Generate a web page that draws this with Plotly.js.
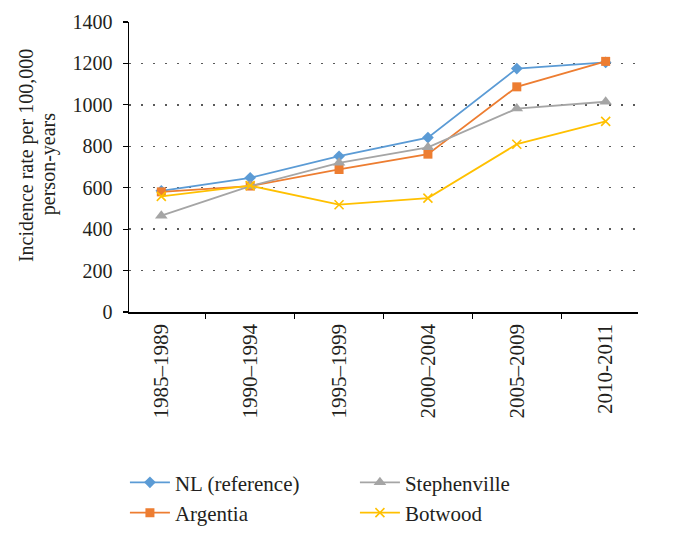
<!DOCTYPE html>
<html>
<head>
<meta charset="utf-8">
<script src="https://cdn.plot.ly/plotly-3.0.1.min.js"></script>
<style>
  html, body { margin: 0; padding: 0; background: #ffffff; }
  #chart { width: 690px; height: 536px; }
</style>
</head>
<body>
<div id="chart"></div>
<script>
// Time periods on the x axis
const periods = ["1985\u20131989", "1990\u20131994", "1995\u20131999", "2000\u20132004", "2005\u20132009", "2010-2011"];

// Incidence rate per 100,000 person-years for each area
const nlReference = [585, 648, 752, 842, 1175, 1205];
const argentia = [580, 608, 688, 762, 1087, 1210];
const stephenville = [465, 608, 720, 795, 982, 1015];
const botwood = [558, 610, 518, 550, 810, 920];

const yTicks = [0, 200, 400, 600, 800, 1000, 1200, 1400];

// Two-line y axis title
const yTitleLines = ["Incidence rate per 100,000", "person-years"];

const serif = "'Liberation Serif', 'Times New Roman', Times, serif";
const ink = "#231f20";

function series(name, y, color, symbol, size, rank) {
  return {
    type: "scatter",
    mode: "lines+markers",
    name: name,
    x: periods,
    y: y,
    legendrank: rank,
    line: { color: color, width: 1.8 },
    marker: {
      symbol: symbol,
      size: size,
      color: color,
      line: { color: color, width: symbol === "x-thin" ? 1.6 : 0 }
    }
  };
}

const traces = [
  series("NL (reference)", nlReference, "#5B9BD5", "diamond", 9, 1),
  series("Argentia", argentia, "#ED7D31", "square", 9, 3),
  series("Stephenville", stephenville, "#A5A5A5", "triangle-up", 11, 2),
  series("Botwood", botwood, "#FFC000", "x-thin", 9, 4)
];

function titleLine(text, x, y) {
  return {
    text: text,
    xref: "paper",
    yref: "paper",
    x: x,
    y: y,
    xanchor: "center",
    yanchor: "middle",
    textangle: -90,
    showarrow: false,
    font: { family: serif, size: 20, color: ink }
  };
}

const layout = {
  width: 690,
  height: 536,
  margin: { l: 129, r: 52, t: 22, b: 224, autoexpand: false },
  paper_bgcolor: "#ffffff",
  plot_bgcolor: "#ffffff",
  font: { family: serif, size: 20, color: ink },
  showlegend: true,
  legend: {
    orientation: "h",
    x: -0.008,
    xanchor: "left",
    y: -0.518,
    yanchor: "top",
    entrywidth: 175,
    itemwidth: 40,
    font: { family: serif, size: 21, color: ink },
    bgcolor: "rgba(0,0,0,0)"
  },
  xaxis: {
    type: "category",
    showgrid: false,
    showline: true,
    linecolor: "#000000",
    linewidth: 1.5,
    ticks: "outside",
    tickson: "boundaries",
    ticklen: 5,
    tickwidth: 1.2,
    tickcolor: "#000000",
    tickangle: -90,
    ticklabelstandoff: 2,
    tickfont: { family: serif, size: 21, color: ink },
    zeroline: false,
    fixedrange: true
  },
  yaxis: {
    range: [0, 1400],
    tickvals: yTicks,
    ticktext: yTicks.map(String),
    showgrid: true,
    gridcolor: "#595959",
    gridwidth: 1.5,
    griddash: "1.5px,10.5px",
    showline: true,
    linecolor: "#000000",
    linewidth: 1.5,
    ticks: "outside",
    ticklen: 5,
    tickwidth: 1.2,
    tickcolor: "#000000",
    ticklabelstandoff: 6,
    tickfont: { family: serif, size: 20, color: ink },
    zeroline: false,
    fixedrange: true
  },
  annotations: [
    titleLine(yTitleLines[0], -0.2024, 0.541),
    titleLine(yTitleLines[1], -0.159, 0.51)
  ]
};

Plotly.newPlot("chart", traces, layout, { displayModeBar: false, staticPlot: true });
</script>
</body>
</html>
